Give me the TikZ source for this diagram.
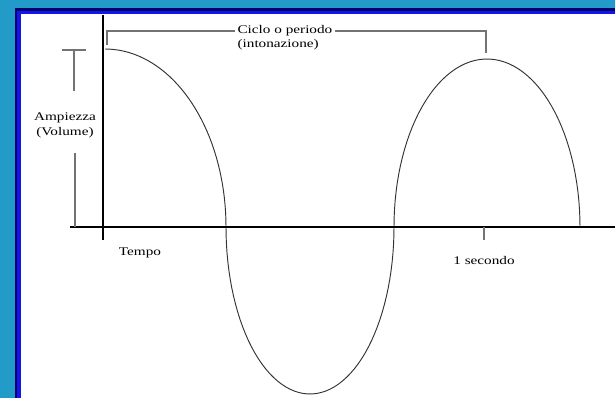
\documentclass[tikz,border=0pt]{standalone}
\usepackage{fontspec}
\setmainfont{Liberation Serif}
\usetikzlibrary{positioning}
\definecolor{sfondo}{RGB}{35,155,200}
\definecolor{cornice}{RGB}{0,0,110}
\definecolor{bordo}{RGB}{20,20,230}
\newcommand{\largo}[1]{\scalebox{1.3}[1]{#1}}

\begin{document}
\begin{tikzpicture}[
    x=0.03cm, y=-0.03cm,
    asse/.style={line width=2.5pt, black},
    onda/.style={line width=0.8pt, black!80},
    guida/.style={line width=1.2pt, black!55},
    etichetta/.style={font=\fontsize{10}{13}\selectfont, inner sep=2pt,
                      text=black, align=center}
  ]
    %--- sfondo e cornice ---
    \fill[sfondo]  (0,0)   rectangle (615,398);
    \fill[cornice] (15,8)  rectangle (615,398);
    \fill[bordo]   (17,11) rectangle (615,398);
    \fill[white]   (21,14) rectangle (615,398);
    \useasboundingbox (0,0) rectangle (615,398);

    %--- punti di riferimento ---
    \coordinate (origine) at (103,227);
    \coordinate (asseT)   at (103,15);
    \coordinate (asseB)   at (103,240);
    \coordinate (asseS)   at (70,227);
    \coordinate (asseD)   at (615,227);
    \coordinate (tacca)   at (484,227);
    \coordinate (taccaB)  at (484,240);
    \coordinate (cicloS)  at (107,45);
    \coordinate (cicloD)  at (486,53);
    \coordinate (ampSx)   at (62,50);
    \coordinate (ampDx)   at (86,50);
    \coordinate (ampT)    at (74,50);
    \coordinate (ampA)    at (74,91);
    \coordinate (ampB)    at (75,153);
    \coordinate (ampZ)    at (75,227);

    %--- testi ---
    \node[etichetta, anchor=west]  (ciclo)    at (235,31)  {\largo{Ciclo o periodo}};
    \node[etichetta, anchor=west]  (intonaz)  at (235,45)  {\largo{(intonazione)}};
    \node[etichetta]               (ampiezza) at (65,125)  {\largo{Ampiezza}\\ \largo{(Volume)}};
    \node[etichetta]               (tempo)    at (140,253) {\largo{Tempo}};
    \node[etichetta, below=0.8cm of tacca] (secondo) {\largo{1 secondo}};

    %--- onda ---
    \draw[onda] plot[domain=0:90,  samples=40] ({105+121*sin(\x)}, {227-178*cos(\x)})
             -- plot[domain=0:180, samples=60] ({310-84*cos(\x)},  {227+167*sin(\x)})
             -- plot[domain=0:180, samples=60] ({487-93*cos(\x)},  {227-168*sin(\x)});

    %--- assi ---
    \draw[asse] (asseT) -- (asseB);
    \draw[asse] (asseS) -- (asseD);
    \draw[guida] (tacca) -- (taccaB);

    %--- periodo ---
    \draw[guida] (cicloS) |- (ciclo.west);
    \draw[guida] (ciclo.east) -| (cicloD);

    %--- ampiezza ---
    \draw[guida] (ampSx) -- (ampDx);
    \draw[guida] (ampT)  -- (ampA);
    \draw[guida] (ampB)  -- (ampZ);
  \end{tikzpicture}
\end{document}
